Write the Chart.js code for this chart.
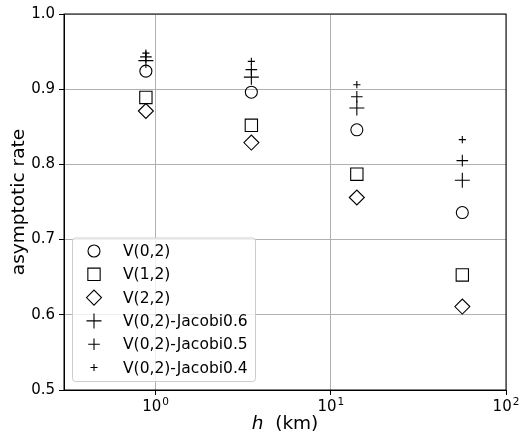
<!DOCTYPE html>
<html>
<head>
<meta charset="utf-8">
<script src="https://cdn.jsdelivr.net/npm/chart.js@4"></script>
<style>
  html, body { margin: 0; padding: 0; background: #fff; }
</style>
</head>
<body>
<canvas id="chart" width="520" height="435"></canvas>
<script>
// h (km) for each test case, log spaced
const hKm = [0.88, 3.52, 14.08, 56.32];

// asymptotic rates
const v02 = [0.924, 0.896, 0.846, 0.736];
const v12 = [0.889, 0.852, 0.787, 0.653];
const v22 = [0.871, 0.829, 0.756, 0.611];
const v02Jacobi06 = [0.938, 0.916, 0.875, 0.779];
const v02Jacobi05 = [0.943, 0.926, 0.890, 0.805];
const v02Jacobi04 = [0.948, 0.937, 0.906, 0.833];

// x ticks are drawn as base + superscript exponent, like 10^0
const xTickValues = [1, 10, 100];
const xTickBase = ['10', '10', '10'];
const xTickExp = ['0', '1', '2'];
const yTickValues = [0.5, 0.6, 0.7, 0.8, 0.9, 1.0];
const yTickLabels = ['0.5', '0.6', '0.7', '0.8', '0.9', '1.0'];

const FONT = '"DejaVu Sans", sans-serif';

function points(ys) {
  return hKm.map((h, i) => ({ x: h, y: ys[i] }));
}

function series(label, ys, style, radius) {
  return {
    label,
    data: points(ys),
    pointStyle: style,
    pointRadius: radius,
    pointHoverRadius: radius,
    borderColor: '#000',
    backgroundColor: 'rgba(0,0,0,0)',
    borderWidth: 1.1,
    showLine: false
  };
}

// matplotlib style framed legend, lower left inside the axes
const boxLegend = {
  id: 'boxLegend',
  afterDraw(chart) {
    const { ctx, chartArea } = chart;
    const items = chart.data.datasets;
    const rowH = 23.3;
    const w = 183;
    const h = rowH * (items.length - 1) + 27;
    const x0 = chartArea.left + 8;
    const y0 = chartArea.bottom - 9 - h;
    ctx.save();
    ctx.beginPath();
    ctx.roundRect(x0 + 0.5, y0 + 0.5, w, h, 3);
    ctx.fillStyle = 'rgba(255,255,255,0.8)';
    ctx.fill();
    ctx.strokeStyle = '#cccccc';
    ctx.lineWidth = 1;
    ctx.stroke();
    items.forEach((ds, i) => {
      const cy = y0 + 13.5 + i * rowH;
      ctx.strokeStyle = ds.borderColor;
      ctx.fillStyle = 'rgba(0,0,0,0)';
      ctx.lineWidth = ds.borderWidth;
      Chart.helpers.drawPoint(ctx, {
        pointStyle: ds.pointStyle,
        radius: ds.pointRadius,
        borderWidth: ds.borderWidth,
        rotation: 0
      }, x0 + 22, cy);
      ctx.fillStyle = '#000';
      ctx.font = '15.5px ' + FONT;
      ctx.textBaseline = 'middle';
      ctx.fillText(ds.label, x0 + 51, cy + 1);
    });
    ctx.restore();
  }
};

// full box around the axes
const frame = {
  id: 'frame',
  afterDatasetsDraw(chart) {
    const { ctx, chartArea: a } = chart;
    ctx.save();
    ctx.strokeStyle = '#000';
    ctx.lineWidth = 1;
    ctx.strokeRect(a.left, a.top, a.right - a.left, a.bottom - a.top);
    ctx.restore();
  }
};

// log tick labels with a real superscript size
const powerLabels = {
  id: 'powerLabels',
  afterDraw(chart) {
    const { ctx, scales } = chart;
    const xs = scales.x;
    ctx.save();
    ctx.fillStyle = '#000';
    ctx.textBaseline = 'alphabetic';
    ctx.textAlign = 'left';
    xTickValues.forEach((v, i) => {
      const px = xs.getPixelForValue(v);
      ctx.font = '15px ' + FONT;
      const wb = ctx.measureText(xTickBase[i]).width;
      ctx.font = '10.5px ' + FONT;
      const we = ctx.measureText(xTickExp[i]).width;
      const left = px - (wb + we + 1) / 2;
      const base = xs.top + 21;
      ctx.font = '15px ' + FONT;
      ctx.fillText(xTickBase[i], left, base);
      ctx.font = '10.5px ' + FONT;
      ctx.fillText(xTickExp[i], left + wb + 1, base - 6.5);
    });
    ctx.restore();
  }
};

new Chart(document.getElementById('chart'), {
  type: 'scatter',
  data: {
    datasets: [
      series('V(0,2)', v02, 'circle', 6),
      series('V(1,2)', v12, 'rect', 8.7),
      series('V(2,2)', v22, 'rectRot', 7.5),
      series('V(0,2)-Jacobi0.6', v02Jacobi06, 'cross', 7.5),
      series('V(0,2)-Jacobi0.5', v02Jacobi05, 'cross', 5.8),
      series('V(0,2)-Jacobi0.4', v02Jacobi04, 'cross', 3.6)
    ]
  },
  options: {
    responsive: false,
    animation: false,
    layout: { padding: { top: 14, right: 14, left: 0, bottom: 0 } },
    plugins: {
      legend: { display: false },
      tooltip: { enabled: false }
    },
    scales: {
      x: {
        type: 'logarithmic',
        min: 0.3,
        max: 100,
        afterBuildTicks: s => { s.ticks = xTickValues.map(v => ({ value: v })); },
        afterFit: s => { s.height = 45; },
        ticks: {
          callback: () => '',
          font: { family: FONT, size: 15 },
          color: '#000',
          padding: 3,
          maxRotation: 0,
          autoSkip: false
        },
        grid: { color: '#b0b0b0', lineWidth: 1, tickColor: '#000', tickLength: 5 },
        border: { color: '#000', width: 1 },
        title: {
          display: true,
          text: '\u210e  (km)',
          font: { family: FONT, size: 18.5 },
          color: '#000',
          padding: 0
        }
      },
      y: {
        min: 0.5,
        max: 1.0,
        afterBuildTicks: s => { s.ticks = yTickValues.map(v => ({ value: v })); },
        afterFit: s => { s.width = 64; },
        ticks: {
          callback: (v, i) => yTickLabels[i],
          font: { family: FONT, size: 15 },
          color: '#000',
          padding: 4
        },
        grid: { color: '#b0b0b0', lineWidth: 1, tickColor: '#000', tickLength: 5 },
        border: { color: '#000', width: 1 },
        title: {
          display: true,
          text: 'asymptotic rate',
          font: { family: FONT, size: 18.5 },
          color: '#000',
          padding: { top: 8, bottom: 0 }
        }
      }
    }
  },
  plugins: [boxLegend, frame, powerLabels]
});
</script>
</body>
</html>
